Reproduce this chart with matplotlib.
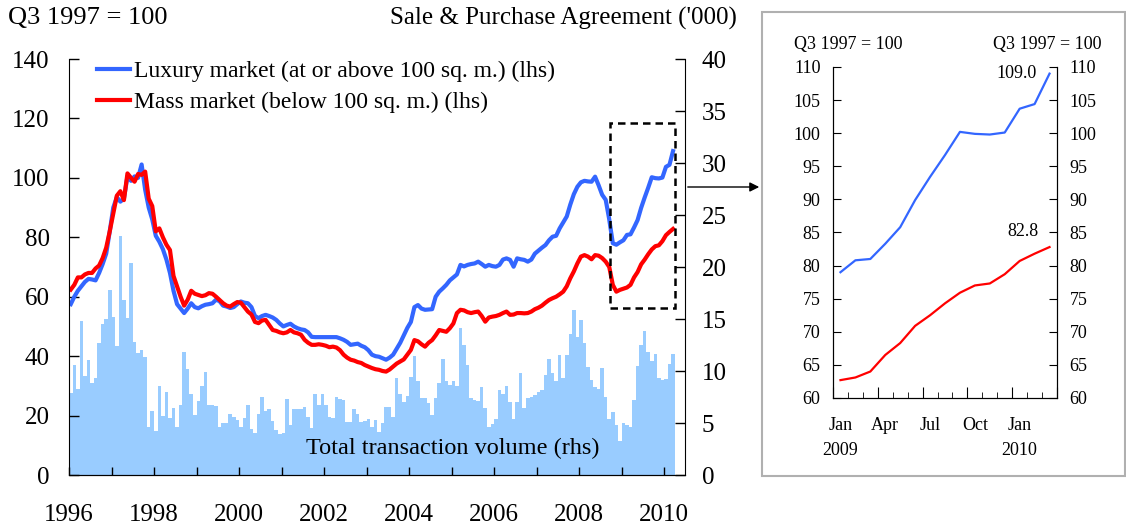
import numpy as np
import matplotlib
matplotlib.use("Agg")
import matplotlib.pyplot as plt
from matplotlib.patches import Rectangle

plt.rcParams['font.family'] = ['Liberation Serif', 'DejaVu Serif']

# ---------------- data ----------------
start_year = 1996
luxury = [
    57.5, 60.0, 62.0, 63.5, 65.0, 66.0, 65.8, 65.5, 68.0, 71.0,
    74.5, 82.0, 90.0, 93.5, 92.0, 93.0, 100.5, 99.0, 100.5, 100.0,
    104.5, 96.0, 90.0, 86.0, 80.5, 78.5, 76.0, 72.5, 68.0, 62.0,
    57.5, 56.0, 54.5, 56.0, 57.8, 56.5, 56.1, 56.8, 57.3, 57.5,
    57.8, 59.0, 58.5, 57.0, 56.7, 56.2, 56.5, 57.5, 58.4, 58.0,
    57.8, 56.5, 53.5, 52.8, 53.5, 53.9, 53.5, 53.0, 52.2, 51.0,
    50.0, 50.5, 50.9, 50.0, 49.4, 49.0, 48.8, 48.0, 46.5, 46.4,
    46.4, 46.4, 46.4, 46.4, 46.4, 46.4, 46.0, 45.5, 44.8, 43.8,
    44.0, 44.2, 43.5, 43.0, 42.0, 40.5, 40.0, 39.8, 39.3, 38.8,
    39.5, 40.5, 42.5, 44.5, 47.0, 49.5, 51.5, 56.5, 57.2, 56.0,
    55.6, 55.7, 55.8, 60.0, 61.7, 62.8, 64.0, 65.5, 66.5, 67.5,
    70.7, 70.2, 70.7, 71.0, 71.2, 71.8, 71.0, 70.1, 70.7, 70.3,
    70.1, 70.7, 72.5, 72.9, 72.4, 70.1, 72.9, 72.6, 72.4, 71.8,
    72.5, 74.5, 75.5, 76.5, 77.4, 79.0, 80.2, 80.5, 83.0, 85.0,
    87.0, 91.0, 94.5, 97.0, 98.5, 99.0, 98.8, 98.7, 100.4, 97.5,
    94.3, 92.6, 86.0, 78.0, 77.5, 78.3,
    79.0, 80.8, 81.0, 83.3, 85.8, 89.9, 93.4, 96.7, 100.2, 99.9,
    99.8, 100.1, 103.7, 104.4, 109.0,
]
mass = [
    62.4, 64.0, 66.5, 66.5, 67.5, 68.0, 68.0, 69.5, 70.5, 73.0,
    76.5, 82.0, 88.0, 94.0, 95.5, 92.5, 101.5, 100.0, 98.7, 101.3,
    101.0, 102.1, 93.0, 90.5, 82.0, 83.0, 80.0, 77.5, 75.7, 67.0,
    63.5, 60.0, 57.0, 59.0, 62.0, 61.0, 60.6, 60.2, 60.5, 61.2,
    61.0, 60.0, 58.9, 57.8, 57.0, 56.7, 57.5, 58.2, 58.0, 56.5,
    55.0, 54.0, 51.5, 51.1, 52.0, 52.2, 50.5, 48.8, 48.5, 48.0,
    47.7, 48.0, 48.8, 48.0, 47.7, 47.2, 45.5, 44.5, 43.8, 43.8,
    44.0, 43.8, 43.5, 43.0, 43.2, 42.9, 42.0, 40.5, 39.5, 38.8,
    38.5, 38.0, 37.7, 37.0, 36.5, 36.0, 35.6, 35.4, 35.0, 34.8,
    35.5, 36.5, 37.5, 38.2, 38.9, 40.5, 42.1, 45.4, 45.0, 44.0,
    43.2, 44.5, 45.4, 47.0, 48.8, 48.5, 48.2, 49.4, 51.0, 54.5,
    55.6, 55.4, 54.8, 54.5, 54.8, 55.0, 53.5, 51.6, 53.0, 53.3,
    53.5, 53.9, 54.5, 55.0, 53.9, 54.0, 54.5, 54.5, 54.4, 54.5,
    55.0, 55.8, 56.3, 57.0, 58.0, 58.9, 59.5, 60.0, 60.8, 61.7,
    63.5, 66.2, 68.5, 71.2, 73.5, 74.0, 73.5, 72.6, 74.0, 73.8,
    73.0, 71.8, 70.0, 64.0, 61.7, 62.3,
    62.7, 63.1, 64.0, 66.5, 68.3, 70.9, 72.5, 74.3, 75.9, 77.0,
    77.3, 78.7, 80.7, 81.8, 82.8,
]
volume = [
    7.9, 10.6, 8.3, 14.8, 9.5, 11.1, 8.8, 9.3, 12.7, 14.5,
    15.0, 17.8, 15.2, 12.4, 23.0, 16.8, 15.1, 20.4, 12.8, 11.7,
    12.0, 11.3, 4.6, 6.2, 4.2, 8.6, 5.7, 8.0, 5.5, 6.4,
    4.6, 6.7, 11.8, 10.2, 7.8, 5.8, 7.1, 8.6, 9.9, 6.7,
    6.7, 6.6, 4.6, 5.0, 5.0, 5.9, 5.6, 5.3, 4.6, 5.5,
    6.7, 4.4, 4.0, 5.9, 7.5, 6.2, 6.3, 5.2, 4.3, 3.9,
    4.0, 7.3, 4.8, 6.3, 6.3, 6.3, 6.5, 5.6, 4.5, 7.8,
    6.7, 7.8, 6.7, 5.6, 5.5, 7.5, 7.3, 7.2, 5.1, 5.1,
    6.3, 5.9, 5.1, 5.2, 5.4, 4.6, 5.3, 4.1, 5.0, 6.5,
    6.5, 5.6, 9.3, 7.8, 7.0, 7.6, 9.4, 11.4, 9.0, 7.4,
    7.4, 6.9, 5.8, 7.4, 8.8, 11.2, 9.0, 8.7, 9.0, 8.6,
    14.1, 12.5, 10.6, 7.4, 7.2, 7.1, 8.5, 6.4, 4.6, 4.9,
    5.4, 8.2, 7.8, 8.6, 7.0, 5.4, 7.0, 9.8, 6.4, 7.4,
    7.5, 7.7, 8.0, 8.2, 9.6, 11.2, 9.8, 9.0, 11.5, 9.3,
    11.5, 13.6, 15.9, 13.3, 14.9, 12.7, 10.4, 9.1, 8.5, 8.3,
    10.3, 7.5, 5.4, 6.1, 4.8, 3.3, 5.0, 4.8, 4.6, 7.2,
    10.5, 12.5, 13.8, 11.8, 11.0, 11.6, 9.3, 9.1, 9.2, 10.7,
    11.6,
]
year_ticks = list(range(1996, 2011))
year_labels = [str(y) if y % 2 == 0 else "" for y in year_ticks]

inset_months = ["Jan\n2009", "Feb", "Mar", "Apr", "May", "Jun", "Jul", "Aug",
                "Sep", "Oct", "Nov", "Dec", "Jan\n2010", "Feb", "Mar"]
inset_luxury = luxury[-15:]
inset_mass = mass[-15:]

BLUE = "#3366ff"
RED = "#ff0000"
BARC = "#99ccff"

# ---------------- figure ----------------
W, H = 1126, 529
fig = plt.figure(figsize=(W / 100, H / 100), dpi=100)

def fx(px):
    return px / W

def fy(py):
    return 1 - py / H

# main axes
ax = fig.add_axes([fx(69), fy(475), fx(685) - fx(69), fy(59) - fy(475)])
ax2 = ax.twinx()
ax.set_zorder(ax2.get_zorder() + 1)
ax.patch.set_visible(False)

n = len(luxury)
xs = start_year + (np.arange(n) + 0.5) / 12.0

ax2.bar(xs, volume, width=1 / 12.0, color=BARC, linewidth=0, align="center")
ax.plot(xs, luxury, color=BLUE, lw=3.0, label="Luxury market (at or above 100 sq. m.) (lhs)",
        solid_joinstyle="round")
ax.plot(xs, mass, color=RED, lw=3.0, label="Mass market (below 100 sq. m.) (lhs)",
        solid_joinstyle="round")

ax.set_xlim(1996, 2010.49)
ax.set_ylim(0, 140)
ax2.set_ylim(0, 40)
ax.set_yticks(range(0, 141, 20))
ax2.set_yticks(range(0, 41, 5))
ax.set_xticks(year_ticks)
ax.set_xticklabels(year_labels)

for a in (ax, ax2):
    a.spines['top'].set_visible(False)
ax2.spines['left'].set_visible(False)
ax.spines['right'].set_visible(False)

ax.tick_params(axis='y', direction='in', length=7, width=1, labelsize=18, pad=14)
ax.tick_params(axis='x', direction='in', length=6, width=1, labelsize=18, pad=21)
ax2.tick_params(axis='y', direction='in', length=7, width=1, labelsize=18, pad=12)

# dashed box marking the inset period
ax.add_patch(Rectangle((2008.73, 56.2), 2010.245 - 2008.73, 118.5 - 56.2,
                       fill=False, ls=(0, (3, 2)), lw=1.8, ec="black", zorder=5))

leg = ax.legend(loc="upper left", bbox_to_anchor=(0.045, 0.997), frameon=False,
                fontsize=17, handlelength=1.4, handletextpad=0.2,
                labelspacing=0.42, borderpad=0, borderaxespad=0)

ax2.text(2005.03, 2.6, "Total transaction volume (rhs)", fontsize=17.5,
         ha="center", va="center")

fig.text(fx(8), fy(18), "Q3 1997 = 100", fontsize=19, ha="left", va="center")
fig.text(fx(737), fy(18), "Sale & Purchase Agreement ('000)", fontsize=18,
         ha="right", va="center")

# arrow to inset
fig.patches.append(matplotlib.patches.FancyArrowPatch(
    (fx(685), fy(187)), (fx(762), fy(187)), transform=fig.transFigure,
    arrowstyle="-|>", mutation_scale=14, color="black", lw=1))

# inset frame
fig.patches.append(Rectangle((fx(762), fy(476)), fx(1125) - fx(762), fy(12) - fy(476),
                             transform=fig.transFigure, fill=False, ec="#b0b0b0", lw=1.5))

# inset axes
ia = fig.add_axes([fx(833), fy(398), fx(1057) - fx(833), fy(67) - fy(398)])
ib = ia.twinx()
ix = np.arange(len(inset_luxury))
ia.plot(ix, inset_luxury, color=BLUE, lw=1.6)
ia.plot(ix, inset_mass, color=RED, lw=1.6)
ia.set_xlim(-0.5, len(inset_luxury) - 0.5)
ia.set_ylim(60, 110)
ib.set_ylim(60, 110)
ia.set_yticks(range(60, 111, 5))
ib.set_yticks(range(60, 111, 5))
for a in (ia, ib):
    a.spines['top'].set_visible(False)
ia.tick_params(axis='y', direction='in', length=6, labelsize=13, pad=9)
ib.tick_params(axis='y', direction='in', length=6, labelsize=13, pad=9)

label_idx = [0, 3, 6, 9, 12]
ia.set_xticks(label_idx)
ia.set_xticklabels([inset_months[i] for i in label_idx], linespacing=1.6)
ia.tick_params(axis='x', which='major', length=0, labelsize=13, pad=14)
ia.set_xticks(np.arange(-0.5, len(inset_luxury), 1), minor=True)
ia.tick_params(axis='x', which='minor', direction='in', length=4)
sec = ia.secondary_xaxis('bottom')
sec.set_xticks(np.arange(-0.5, len(inset_luxury), 3))
sec.tick_params(axis='x', direction='in', length=8, labelbottom=False)
sec.spines['bottom'].set_visible(False)

ia.annotate(f"{inset_luxury[-1]:.1f}", xy=(ix[-1], inset_luxury[-1]),
            xytext=(-9, 0), textcoords="offset points", ha="right", va="center",
            fontsize=13)
ia.annotate(f"{inset_mass[-1]:.1f}", xy=(ix[-1], inset_mass[-1]),
            xytext=(-8, 11), textcoords="offset points", ha="right", va="center",
            fontsize=13)

fig.text(fx(848), fy(44), "Q3 1997 = 100", fontsize=13, ha="center", va="center")
fig.text(fx(1047), fy(44), "Q3 1997 = 100", fontsize=13, ha="center", va="center")

fig.savefig("out.png", dpi=100)
